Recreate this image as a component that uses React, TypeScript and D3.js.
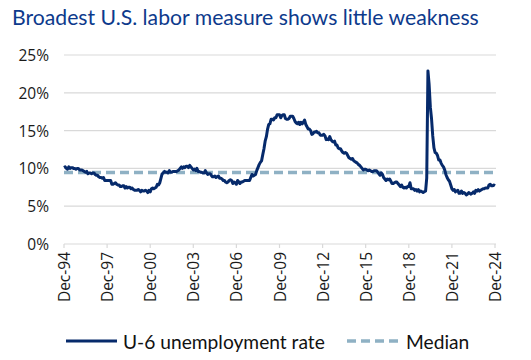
import React from "react";
import * as d3 from "d3";

// Monthly U-6 unemployment rate (%), Dec 1994 through Dec 2024
const startYear = 1994;
const startMonth = 11; // December
const u6Values: number[] = [
  10.1,
  // 1995
  10.2, 10.0, 9.9, 10.2, 10.0, 10.1, 10.1, 10.0, 10.0, 9.9, 10.0, 10.0,
  // 1996
  9.8, 9.8, 9.8, 9.7, 9.6, 9.5, 9.6, 9.3, 9.4, 9.4, 9.3, 9.4,
  // 1997
  9.4, 9.2, 9.1, 9.1, 8.9, 8.8, 8.8, 8.7, 8.8, 8.4, 8.4, 8.4,
  // 1998
  8.4, 8.4, 8.4, 7.9, 7.9, 8.0, 8.1, 7.9, 7.8, 7.8, 7.6, 7.6,
  // 1999
  7.7, 7.7, 7.4, 7.6, 7.4, 7.5, 7.5, 7.3, 7.4, 7.2, 7.1, 7.1,
  // 2000
  7.1, 7.2, 7.1, 6.9, 7.1, 7.0, 7.0, 7.1, 7.0, 6.8, 7.1, 6.9,
  // 2001
  7.3, 7.4, 7.3, 7.4, 7.5, 7.9, 7.8, 8.1, 8.7, 9.3, 9.4, 9.6,
  // 2002
  9.5, 9.5, 9.4, 9.7, 9.5, 9.5, 9.6, 9.6, 9.6, 9.6, 9.7, 9.8,
  // 2003
  10.0, 10.2, 10.0, 10.2, 10.1, 10.3, 10.3, 10.1, 10.4, 10.2, 10.0, 9.8,
  // 2004
  9.9, 9.7, 10.0, 9.6, 9.6, 9.5, 9.5, 9.4, 9.4, 9.7, 9.4, 9.2,
  // 2005
  9.3, 9.3, 9.1, 8.9, 8.9, 9.0, 8.8, 8.9, 9.0, 8.7, 8.7, 8.6,
  // 2006
  8.4, 8.4, 8.2, 8.1, 8.2, 8.4, 8.5, 8.4, 8.0, 8.2, 8.1, 7.9,
  // 2007
  8.4, 8.2, 8.0, 8.2, 8.2, 8.3, 8.4, 8.4, 8.4, 8.4, 8.4, 8.8,
  // 2008
  9.2, 9.0, 9.1, 9.2, 9.7, 10.1, 10.5, 10.8, 11.0, 11.8, 12.6, 13.6,
  // 2009
  14.2, 15.2, 15.8, 15.9, 16.5, 16.5, 16.4, 16.7, 16.7, 17.1, 17.1, 17.1,
  // 2010
  16.7, 17.0, 17.1, 17.1, 16.6, 16.5, 16.5, 16.6, 16.9, 16.9, 16.9, 16.6,
  // 2011
  16.2, 16.0, 15.9, 16.1, 15.8, 16.1, 15.9, 16.1, 16.4, 15.8, 15.5, 15.2,
  // 2012
  15.2, 15.0, 14.5, 14.6, 14.8, 14.8, 14.9, 14.7, 14.7, 14.4, 14.4, 14.4,
  // 2013
  14.5, 14.3, 13.8, 13.9, 13.8, 14.2, 13.8, 13.6, 13.5, 13.6, 13.1, 13.1,
  // 2014
  12.7, 12.6, 12.6, 12.3, 12.1, 12.0, 12.1, 12.0, 11.7, 11.4, 11.3, 11.2,
  // 2015
  11.3, 11.0, 10.9, 10.8, 10.7, 10.5, 10.4, 10.2, 10.0, 9.8, 9.9, 9.9,
  // 2016
  9.8, 9.7, 9.8, 9.7, 9.6, 9.6, 9.7, 9.7, 9.7, 9.5, 9.3, 9.1,
  // 2017
  9.4, 9.2, 8.8, 8.6, 8.4, 8.6, 8.5, 8.6, 8.3, 8.0, 8.0, 8.1,
  // 2018
  8.2, 8.2, 8.0, 7.8, 7.6, 7.8, 7.5, 7.4, 7.5, 7.4, 7.6, 7.6,
  // 2019
  8.1, 7.3, 7.3, 7.3, 7.1, 7.2, 7.0, 7.2, 6.9, 7.0, 6.9, 6.8,
  // 2020
  6.9, 7.0, 8.7, 22.9, 21.1, 18.1, 16.6, 14.3, 12.7, 12.1, 12.0, 11.7,
  // 2021
  11.1, 11.1, 10.7, 10.4, 10.2, 9.8, 9.2, 8.8, 8.5, 8.3, 7.8, 7.3,
  // 2022
  7.1, 7.2, 6.9, 7.0, 7.1, 6.7, 6.7, 7.0, 6.7, 6.8, 6.7, 6.5,
  // 2023
  6.6, 6.8, 6.7, 6.6, 6.7, 6.9, 6.7, 7.1, 7.0, 7.2, 7.0, 7.1,
  // 2024
  7.2, 7.3, 7.3, 7.4, 7.4, 7.4, 7.8, 7.9, 7.7, 7.7, 7.8, 7.7,
];
const medianValue = 9.45;
const yTicks = [0, 5, 10, 15, 20, 25];
const tickYears = [1994, 1997, 2000, 2003, 2006, 2009, 2012, 2015, 2018, 2021, 2024];
const title = "Broadest U.S. labor measure shows little weakness";
const seriesLabel = "U-6 unemployment rate";
const medianLabel = "Median";

const W = 531;
const H = 360;
const left = 64;
const right = 495;
const top = 55;
const bottom = 244;

const NAVY = "#062a6b";
const MEDIAN_C = "#8fb1c4";
const GRID = "#d9d9d9";
const TITLE_C = "#0d3a8c";

export default function App() {
  const data = u6Values.map((v, i) => ({ date: new Date(startYear, startMonth + i, 1), v }));
  const x = d3
    .scaleTime()
    .domain([new Date(startYear, startMonth, 1), new Date(2024, 11, 1)])
    .range([left, right]);
  const y = d3.scaleLinear().domain([0, 25]).range([bottom, top]);
  const line = d3
    .line<{ date: Date; v: number }>()
    .x((d) => x(d.date))
    .y((d) => y(d.v));
  const fmt = d3.timeFormat("%b-%y");
  const tickFont = "'Open Sans', 'Noto Sans', sans-serif";
  const titleFont = "Lato, 'Noto Sans', sans-serif";

  return (
    <svg
      width={W}
      height={H}
      viewBox={`0 0 ${W} ${H}`}
      style={{ position: "absolute", left: 0, top: 0, background: "#fff" }}
    >
      <rect x={0} y={0} width={W} height={H} fill="#fff" />
      <text x={12} y={25} fontFamily={titleFont} fontSize={21.2} fill={TITLE_C}>
        {title}
      </text>
      {/* gridlines */}
      {yTicks.map((t) => (
        <line
          key={t}
          x1={left}
          x2={right + 1}
          y1={y(t)}
          y2={y(t)}
          stroke={GRID}
          strokeWidth={1.2}
        />
      ))}
      {yTicks.map((t) => (
        <text
          key={"l" + t}
          x={49}
          y={y(t)}
          textAnchor="end"
          dominantBaseline="central"
          fontFamily={tickFont}
          fontSize={15.5}
          fill="#1a1a1a"
        >
          {t}%
        </text>
      ))}
      {/* x ticks */}
      {tickYears.map((yr) => {
        const d = new Date(yr, 11, 1);
        const px = x(d);
        return (
          <g key={yr}>
            <line x1={px} x2={px} y1={bottom} y2={bottom + 4} stroke={GRID} strokeWidth={1.2} />
            <text
              transform={`translate(${px},${bottom + 8}) rotate(-90)`}
              textAnchor="end"
              dominantBaseline="central"
              fontFamily={tickFont}
              fontSize={15.5}
              fill="#1a1a1a"
            >
              {fmt(d)}
            </text>
          </g>
        );
      })}
      {/* median */}
      <line
        x1={left}
        x2={right}
        y1={y(medianValue)}
        y2={y(medianValue)}
        stroke={MEDIAN_C}
        strokeWidth={3.5}
        strokeDasharray="9,5"
      />
      <path d={line(data) || ""} fill="none" stroke={NAVY} strokeWidth={3} strokeLinejoin="round" />
      {/* legend */}
      <line x1={66} x2={117} y1={341} y2={341} stroke={NAVY} strokeWidth={3} />
      <text
        x={123}
        y={341}
        dominantBaseline="central"
        fontFamily={titleFont}
        fontSize={19.2}
        fill="#111"
      >
        {seriesLabel}
      </text>
      <line
        x1={347}
        x2={400}
        y1={341}
        y2={341}
        stroke={MEDIAN_C}
        strokeWidth={3.5}
        strokeDasharray="9,5"
      />
      <text
        x={406}
        y={341}
        dominantBaseline="central"
        fontFamily={titleFont}
        fontSize={19.2}
        fill="#111"
      >
        {medianLabel}
      </text>
    </svg>
  );
}
